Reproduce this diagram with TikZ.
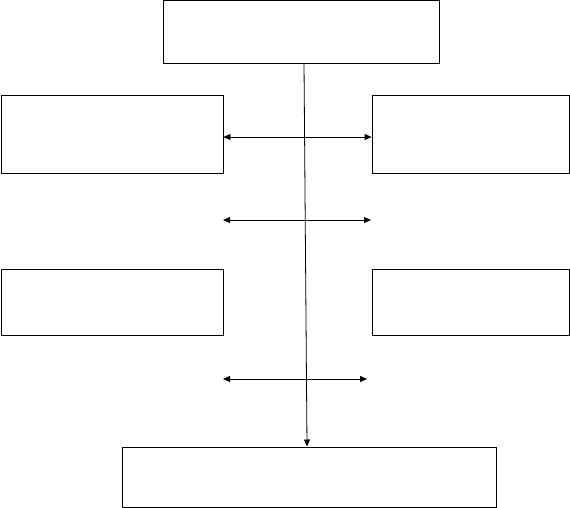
\documentclass[tikz,border=0pt]{standalone}
\usetikzlibrary{arrows.meta}
\begin{document}
\begin{tikzpicture}[x=1pt,y=-1pt,
  boxnode/.style={draw=black,line width=0.8pt,inner sep=0pt,fill=white},
  link/.style={line width=0.8pt,{Triangle[length=7pt,width=6pt]}-{Triangle[length=7pt,width=6pt]}},
  flow/.style={line width=0.8pt,-{Triangle[length=7pt,width=6pt]}}]
\useasboundingbox (0,0) rectangle (570,508);
\node[boxnode,minimum width=276pt,minimum height=63pt] (top) at (301,31.5) {};
\node[boxnode,minimum width=222pt,minimum height=78pt] (l1) at (112,134) {};
\node[boxnode,minimum width=197pt,minimum height=78pt] (r1) at (470.5,134) {};
\node[boxnode,minimum width=222pt,minimum height=66pt] (l2) at (112,302) {};
\node[boxnode,minimum width=197pt,minimum height=66pt] (r2) at (470.5,302) {};
\node[boxnode,minimum width=374pt,minimum height=60pt] (bot) at (309,477) {};
\coordinate (vs) at (304,63);
\coordinate (ve) at (307,446.5);
\coordinate (a2l) at (223,220);
\coordinate (a2r) at (371,220);
\coordinate (a3l) at (223,379);
\coordinate (a3r) at (367,379);
\draw[flow] (vs) -- (ve);
\draw[link] (l1.east |- 0,137) -- (r1.west |- 0,137);
\draw[link] (a2l) -- (a2r);
\draw[link] (a3l) -- (a3r);
\end{tikzpicture}
\end{document}
